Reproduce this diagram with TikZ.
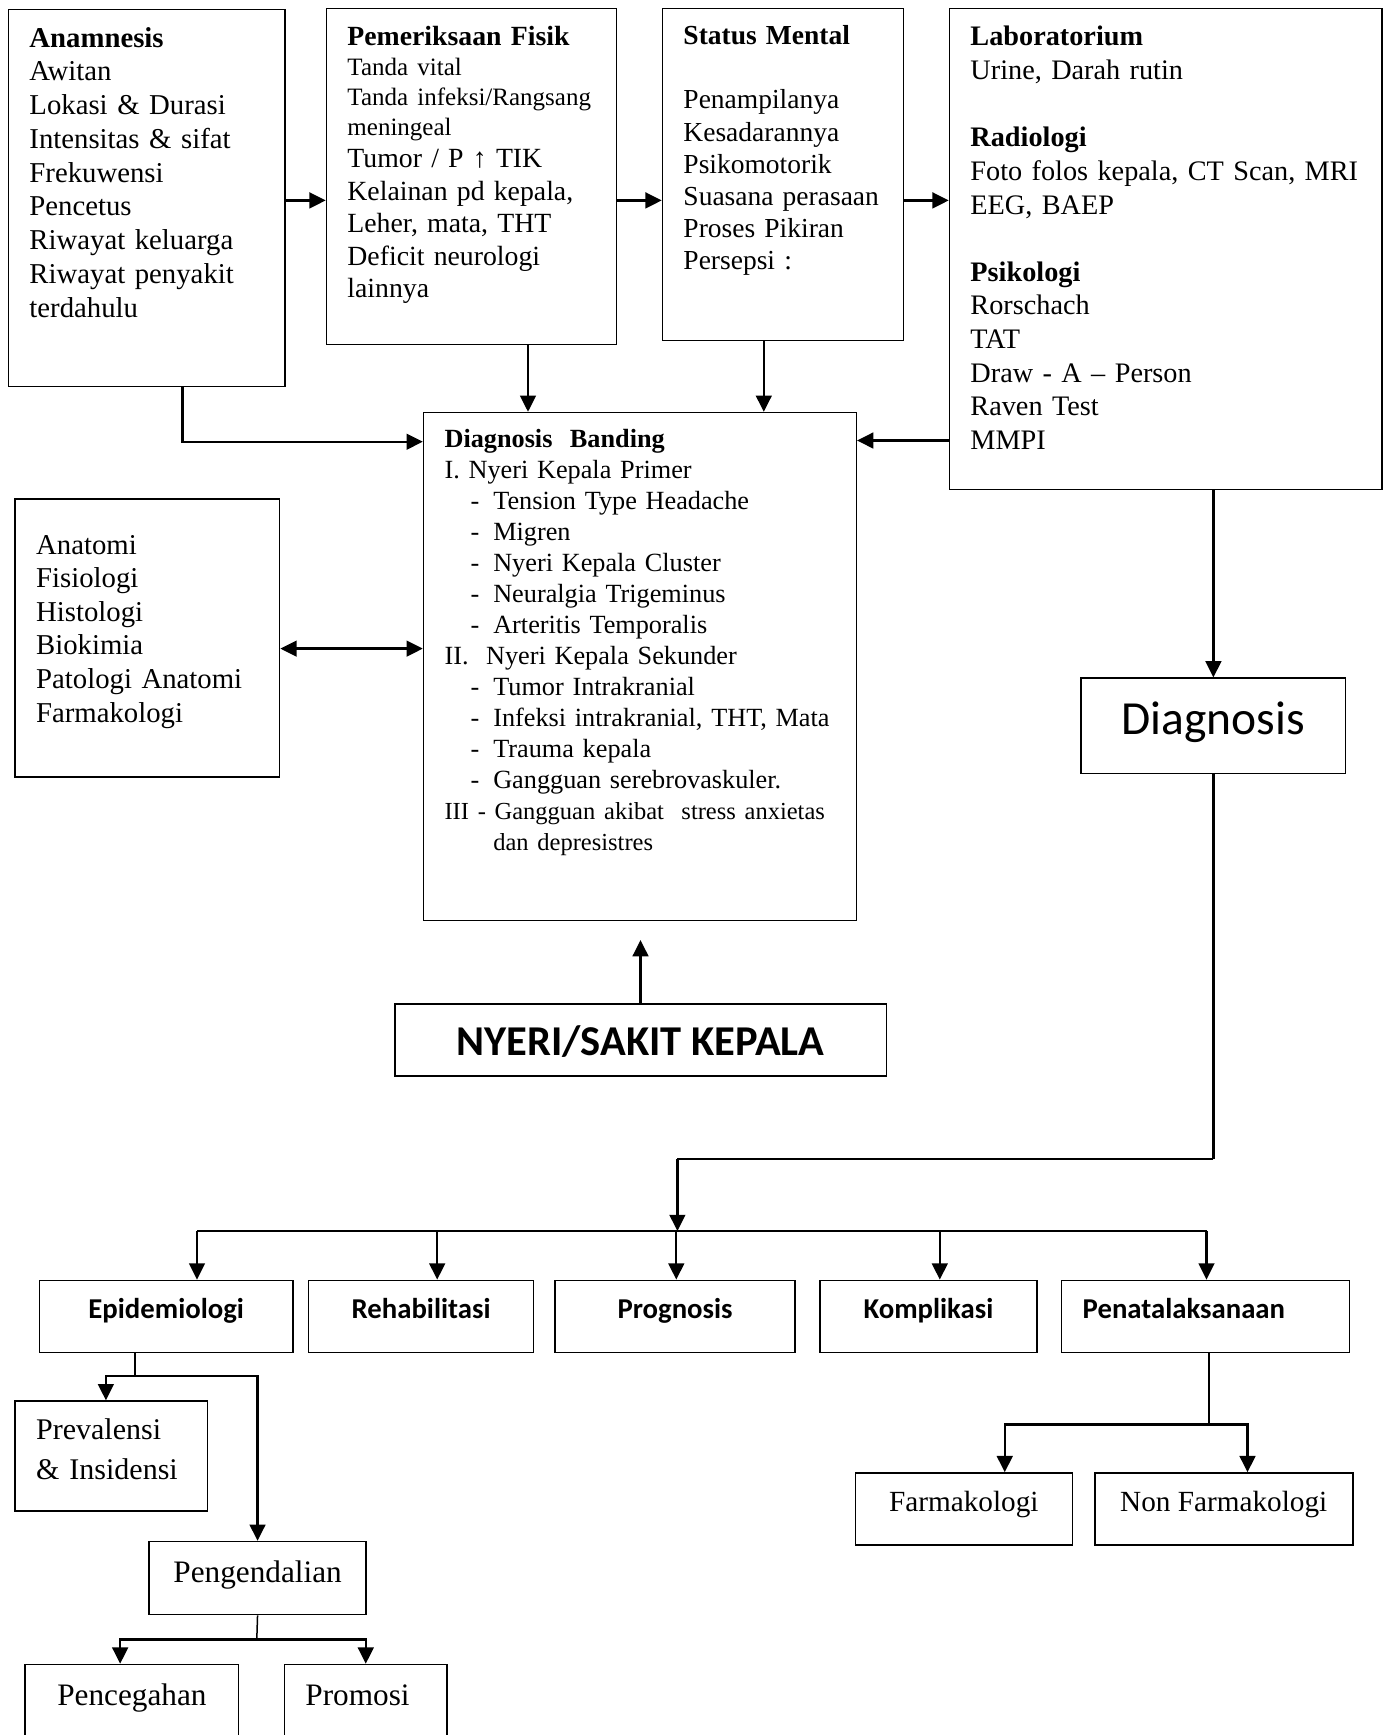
\documentclass[tikz,border=0pt]{standalone}
\usepackage{fontspec}
\setmainfont{Liberation Serif}
\newfontfamily\calibri{Carlito}
\usetikzlibrary{arrows.meta, positioning}
\tikzset{
  kotak/.style={draw, line width=0.6pt, anchor=north west, align=left,
    inner xsep=8.4pt, inner ysep=0pt, font=\fontsize{11.5}{13.5}\selectfont},
  kecil/.style={draw, line width=0.6pt, anchor=north west, align=center,
    inner sep=0pt, font=\fontsize{12.5}{14}\selectfont},
  judul/.style={kecil, font=\calibri\bfseries\fontsize{11.5}{14}\selectfont,
    text height=15.3pt, text depth=13.5pt},
  panah/.style={-{Triangle[length=6.5pt, width=6.3pt]}, line width=0.9pt},
  panahdua/.style={{Triangle[length=6.5pt, width=6.3pt]}-{Triangle[length=6.5pt, width=6.3pt]}, line width=0.9pt},
  garis/.style={line width=0.6pt},
  batang/.style={line width=0.9pt},
}
\newcommand{\butir}[1]{\hspace*{10.4pt}\makebox[9.1pt][l]{-}\mbox{#1}}

\begin{document}
\begin{tikzpicture}[x=0.4pt, y=-0.4pt]
  \useasboundingbox (0,0) rectangle (1388,1735);
  \clip (0,0) rectangle (1388,1735);

  % baris atas
  \node[kotak, text width=93.9pt, text height=15pt, text depth=135.8pt] (anam) at (7.7,8.9)
    {\textbf{Anamnesis}\\ Awitan\\ Lokasi \& Durasi\\ Intensitas \& sifat\\ Frekuwensi\\
     Pencetus\\ Riwayat keluarga\\ Riwayat penyakit\\ terdahulu};
  \node[kotak, text width=99.2pt, text height=15pt, text depth=119.5pt,
    font=\fontsize{11.1}{13}\selectfont,
    below right=-0.5pt and 15.9pt of anam.north east] (fisik)
    {\textbf{Pemeriksaan Fisik}\\
     {\fontsize{10}{11.9}\selectfont Tanda vital\\ \mbox{Tanda infeksi/Rangsang}\\ meningeal\\}
     Tumor / P ↑ TIK\\ \mbox{Kelainan pd kepala,}\\ Leher, mata, THT\\ Deficit neurologi\\ lainnya};
  \node[kotak, text width=79.6pt, text height=14.5pt, text depth=118.4pt,
    font=\fontsize{11}{12.85}\selectfont,
    below right=0pt and 17.8pt of fisik.north east] (mental)
    {\textbf{Status Mental}\\[12.85pt] Penampilanya\\ Kesadarannya\\ Psikomotorik\\
     \mbox{Suasana perasaan}\\ Proses Pikiran\\ Persepsi :};
  \node[kotak, text width=156.2pt, text height=15pt, text depth=177.5pt,
    font=\fontsize{11.3}{13.45}\selectfont,
    below right=0pt and 17.8pt of mental.north east] (lab)
    {\textbf{Laboratorium}\\ Urine, Darah rutin\\[13.45pt]
     \textbf{Radiologi}\\ \mbox{Foto folos kepala, CT Scan, MRI}\\ EEG, BAEP\\[13.45pt]
     \textbf{Psikologi}\\ Rorschach\\ TAT\\ Draw - A – Person\\ Raven Test\\ MMPI};

  % tengah
  \node[kotak, text width=156.3pt, text height=13.9pt, text depth=189.3pt,
    font=\fontsize{10.5}{12.4}\selectfont] (banding) at (422.8,411.8)
    {\textbf{Diagnosis\ \ Banding}\\
     I. Nyeri Kepala Primer\\
     \butir{Tension Type Headache}\\
     \butir{Migren}\\
     \butir{Nyeri Kepala Cluster}\\
     \butir{Neuralgia Trigeminus}\\
     \butir{Arteritis Temporalis}\\
     II.\ \ Nyeri Kepala Sekunder\\
     \butir{Tumor Intrakranial}\\
     \butir{Infeksi intrakranial, THT, Mata}\\
     \butir{Trauma kepala}\\
     \butir{Gangguan serebrovaskuler.}\\
     {\fontsize{9.8}{12.4}\selectfont \mbox{III - Gangguan akibat\ \ stress anxietas}\\
     \hspace*{19.5pt}dan depresistres}};
  \node[kotak, text width=89pt, text height=22.1pt, text depth=89.1pt,
    font=\fontsize{11.5}{13.45}\selectfont] (anatomi) at (14.4,498)
    {Anatomi\\ Fisiologi\\ Histologi\\ Biokimia\\ Patologi Anatomi\\ Farmakologi};
  \node[kecil, minimum width=105.8pt, text height=22.35pt, text depth=15.75pt,
    font=\calibri\fontsize{19}{22}\selectfont] (diagnosis) at (1080.4,677.4) {Diagnosis};
  \node[kecil, minimum width=196.6pt, text height=20.5pt, text depth=8.3pt,
    font=\calibri\bfseries\fontsize{17}{20}\selectfont] (nyeri) at (394,1003) {NYERI/SAKIT KEPALA};

  % baris bawah
  \node[judul, minimum width=101.4pt] (epid) at (38.7,1279.6) {Epidemiologi};
  \node[judul, minimum width=89.9pt, below right=0pt and 5.7pt of epid.north east] (rehab) {Rehabilitasi};
  \node[judul, minimum width=96.1pt, below right=0pt and 8pt of rehab.north east] (prog) {Prognosis};
  \node[judul, minimum width=86.8pt, below right=0pt and 9.3pt of prog.north east] (kompl) {Komplikasi};
  \node[kotak, text width=98.3pt, text height=15.3pt, text depth=13.5pt,
    font=\calibri\bfseries\fontsize{11.5}{14}\selectfont,
    below right=0pt and 9.3pt of kompl.north east] (tata) {Penatalaksanaan};

  \node[kotak, text width=60.2pt, text height=15.2pt, text depth=28.7pt,
    font=\fontsize{12}{16}\selectfont] (prev) at (14.4,1400.3) {Prevalensi\\ \& Insidensi};
  \node[kecil, minimum width=86.8pt, text height=16.3pt, text depth=12.9pt] (peng) at (148.3,1540.8) {Pengendalian};
  \node[kecil, minimum width=85.4pt, text height=16.3pt, text depth=15.7pt] (cegah) at (24.4,1663.7) {Pencegahan};
  \node[kotak, text width=48.3pt, text height=16.3pt, text depth=15.7pt,
    font=\fontsize{12.5}{14}\selectfont,
    below right=0pt and 17.7pt of cegah.north east] (promosi) {Promosi};
  \node[kecil, minimum width=86.8pt, text height=15.4pt, text depth=13.4pt,
    font=\fontsize{11.7}{14}\selectfont] (farm) at (854.5,1472.2) {Farmakologi};
  \node[kecil, minimum width=103.2pt, text height=15.4pt, text depth=13.4pt,
    font=\fontsize{11.7}{14}\selectfont,
    below right=0pt and 8.4pt of farm.north east] (nonfarm) {Non Farmakologi};

  % sambungan atas
  \coordinate (jalur) at (0,200.4);
  \draw[panah] (anam.east |- jalur) -- (fisik.west |- jalur);
  \draw[panah] (fisik.east |- jalur) -- (mental.west |- jalur);
  \draw[panah] (mental.east |- jalur) -- (lab.west |- jalur);
  \coordinate (sikuA) at (182.6,441.7);
  \draw[panah] (anam.south -| sikuA) |- (banding.west |- sikuA);
  \coordinate (turunB) at (528,0);
  \draw[panah] (fisik.south -| turunB) -- (banding.north -| turunB);
  \coordinate (turunC) at (763.8,0);
  \draw[panah] (mental.south -| turunC) -- (banding.north -| turunC);
  \coordinate (masukD) at (0,440.5);
  \draw[panah] (lab.west |- masukD) -- (banding.east |- masukD);
  \coordinate (masukE) at (0,648.6);
  \draw[panahdua] (anatomi.east |- masukE) -- (banding.west |- masukE);
  \draw[panah, shorten >=7.5pt] (nyeri.north) -- (banding.south -| nyeri.north);
  \draw[panah] (lab.south -| diagnosis.north) -- (diagnosis.north);

  % sambungan bawah
  \coordinate (cabang) at (677.4,1159);
  \coordinate (busL) at (197,1231);
  \coordinate (busR) at (1206.5,1231);
  \coordinate (b2) at (437.2,1231);
  \coordinate (b3) at (676.3,1231);
  \coordinate (b4) at (939.8,1231);
  \draw[batang] (diagnosis.south) -- (diagnosis.south |- cabang);
  \draw[garis] (diagnosis.south |- cabang) -- (cabang);
  \draw[panah] (cabang) -- (cabang |- busL);
  \draw[garis] (busL) -- (busR);
  \draw[panah] (busL) -- (epid.north -| busL);
  \draw[panah] (b2) -- (rehab.north -| b2);
  \draw[panah] (b3) -- (prog.north -| b3);
  \draw[panah] (b4) -- (kompl.north -| b4);
  \draw[panah] (busR) -- (tata.north -| busR);

  \coordinate (cabEpid) at (135,1376);
  \draw[garis] (epid.south -| cabEpid) -- (cabEpid);
  \draw[panah] (cabEpid) -| ([xshift=-2.2pt]prev.north);
  \draw[panah] (cabEpid) -| (peng.north);
  \coordinate (cabPeng) at (256.8,1639.4);
  \draw[garis] (peng.south) -- (cabPeng);
  \draw[panah] (cabPeng) -| ([xshift=-4.7pt]cegah.north);
  \draw[panah] (cabPeng) -| (promosi.north);
  \coordinate (cabTata) at (1208.8,1424.6);
  \draw[garis] (tata.south -| cabTata) -- (cabTata);
  \draw[panah] (cabTata) -| ([xshift=16.4pt]farm.north);
  \draw[panah] (cabTata) -| ([xshift=9.5pt]nonfarm.north);
\end{tikzpicture}
\end{document}
